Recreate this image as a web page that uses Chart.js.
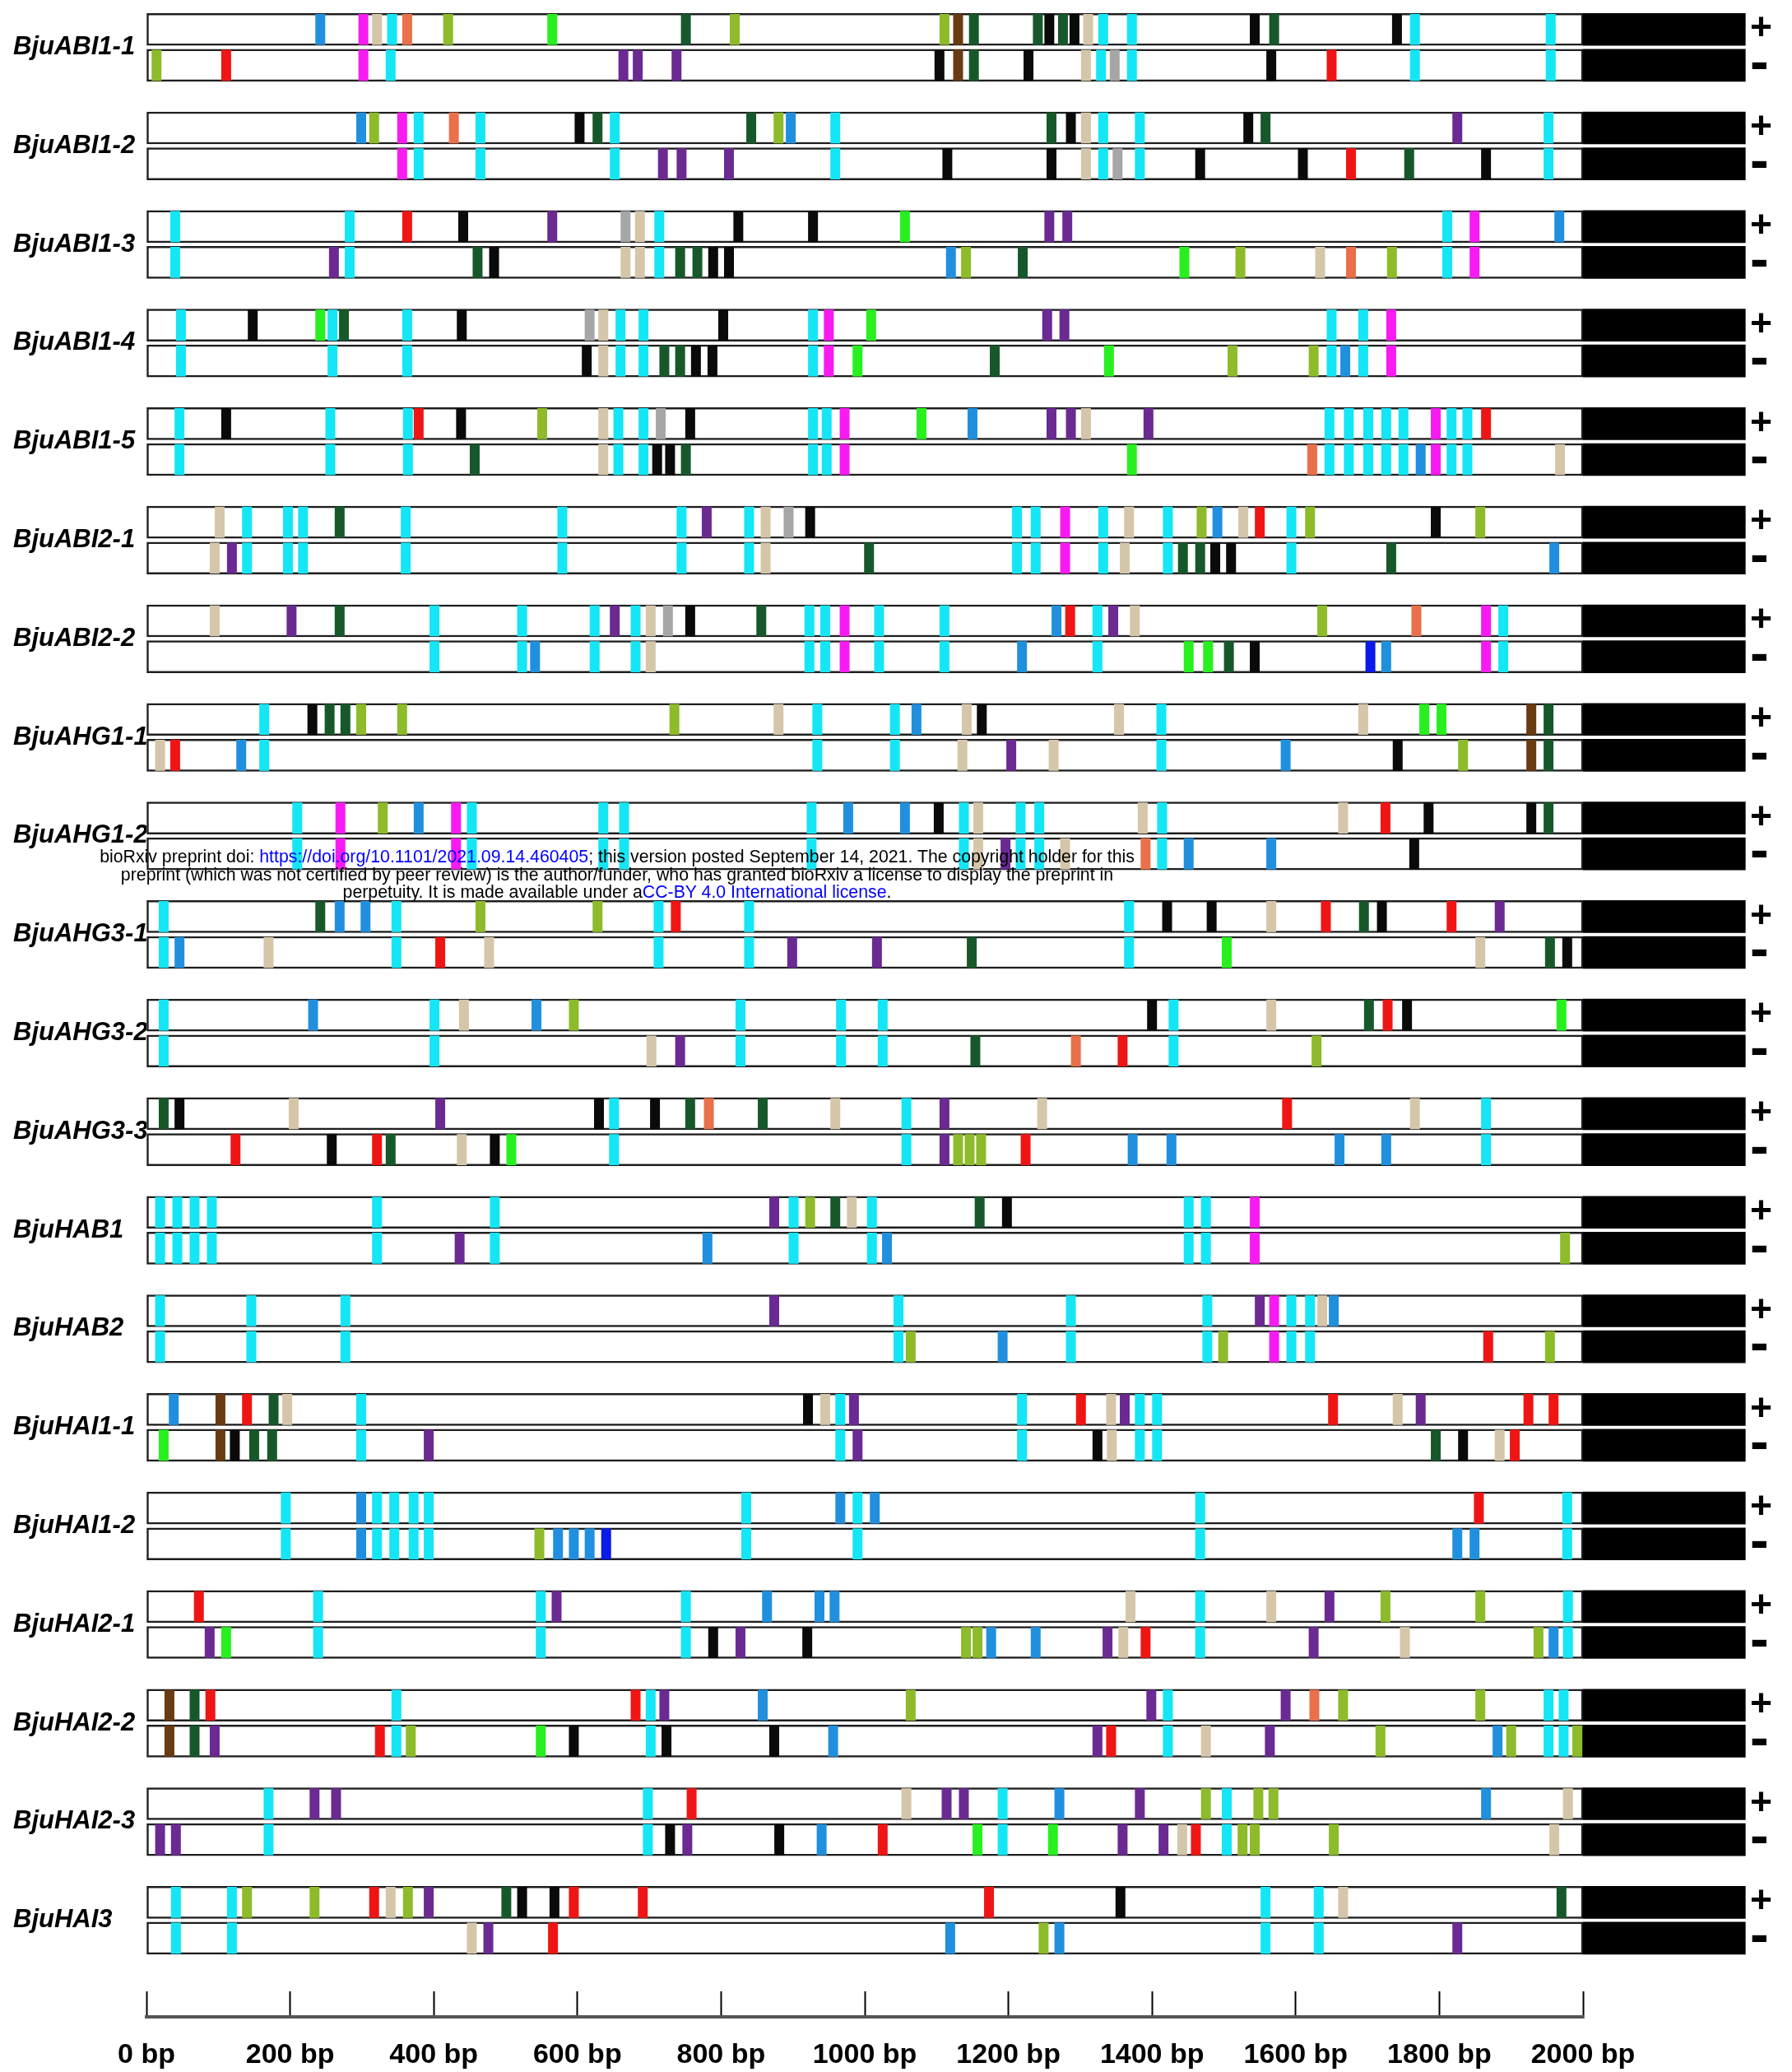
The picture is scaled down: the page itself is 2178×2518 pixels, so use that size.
<!DOCTYPE html>
<html><head><meta charset="utf-8">
<script src="https://cdn.jsdelivr.net/npm/chart.js@4/dist/chart.umd.min.js"></script>
<style>
html,body{margin:0;padding:0;background:#fff;}
#wrap{position:relative;width:2178px;height:2518px;}
#note{position:absolute;left:0;width:1500px;top:1031px;text-align:center;font-family:"Liberation Sans",Arial,sans-serif;font-size:21.3px;line-height:21.5px;color:#000;white-space:nowrap;}
#note span{color:#0000ff;}
</style></head><body>
<div id="wrap"><canvas id="c" width="2178" height="2518"></canvas>
<div id="note">bioRxiv preprint doi: <span>https://doi.org/10.1101/2021.09.14.460405</span>; this version posted September 14, 2021. The copyright holder for this<br>preprint (which was not certified by peer review) is the author/funder, who has granted bioRxiv a license to display the preprint in<br>perpetuity. It is made available under a<span>CC-BY 4.0 International license</span>.</div>
</div>
<script>
// ---------------- DATA ----------------
const genes = ['BjuABI1-1','BjuABI1-2','BjuABI1-3','BjuABI1-4','BjuABI1-5','BjuABI2-1','BjuABI2-2','BjuAHG1-1','BjuAHG1-2','BjuAHG3-1','BjuAHG3-2','BjuAHG3-3','BjuHAB1','BjuHAB2','BjuHAI1-1','BjuHAI1-2','BjuHAI2-1','BjuHAI2-2','BjuHAI2-3','BjuHAI3'];

// motif sites: code letter + position (bp), + strand
const sitesPlus = [
 'b242 m302 t321 c342 o363 y420 g565 d751 y819 y1111 w1130 d1152 d1241 k1257 d1276 k1292 t1311 c1332 c1372 k1543 d1570 k1741 c1766 c1955',
 'b299 y317 m356 c379 o428 c465 k603 d628 c652 d842 y880 b897 c959 d1260 k1287 t1308 c1332 c1383 k1534 d1558 p1825 c1952',
 'c40 c283 r363 k441 p565 a667 t687 c714 k824 k928 g1056 p1257 p1282 c1811 m1849 b1967',
 'c48 k148 g242 c259 d275 c363 k439 a617 t636 c660 c692 k803 c928 m950 g1009 p1254 p1278 c1650 c1694 m1733',
 'c46 k111 c256 c364 r379 k438 y551 t636 c657 c692 a716 k757 c928 c947 m972 g1079 b1150 p1260 p1287 t1308 p1395 c1647 c1674 c1701 c1726 c1750 m1795 c1817 c1839 r1865',
 't102 c140 c197 c218 d269 c361 c579 c745 p780 c839 t862 a894 k924 c1212 c1238 m1279 c1332 t1368 c1422 y1469 b1491 t1527 r1550 c1594 y1620 k1795 y1857',
 't95 p202 d269 c401 c523 c624 p652 c681 t702 a726 k757 d856 c923 c945 m972 c1020 c1111 b1267 r1286 c1324 p1346 t1376 y1637 o1768 m1865 c1889',
 'c164 k231 d255 d277 y299 y356 y735 t880 c934 c1042 b1072 t1142 k1163 t1354 c1413 t1694 g1779 g1803 w1928 d1952',
 'c210 m270 y329 b379 m431 c453 c636 c665 c926 b977 b1056 k1103 c1138 t1158 c1217 c1243 t1387 c1414 t1666 r1725 k1785 k1928 d1952',
 'c24 d242 b269 b305 c348 y465 y628 c713 r737 c839 c1368 k1421 k1483 t1566 r1642 d1695 k1720 r1817 p1884',
 'c24 b232 c401 t442 b543 y595 c827 c967 c1025 k1400 c1430 t1566 d1702 r1728 k1755 g1970',
 'd24 k46 t205 p409 k630 c651 k708 d757 o783 d858 t959 c1058 p1111 t1247 r1588 t1766 c1865',
 'c19 c43 c67 c91 c321 c485 p874 c901 y924 d959 t982 c1010 d1160 k1198 c1451 c1475 m1543',
 'c19 c146 c277 p874 c1047 c1287 c1477 p1550 m1570 c1594 c1620 t1637 b1653',
 'b38 w103 r140 d177 t196 c299 k921 t945 c966 p985 c1219 r1301 t1343 p1362 c1383 c1407 r1652 t1742 p1774 r1924 r1959',
 'c194 b299 c321 c345 c372 c393 c835 b966 c990 b1014 c1467 r1855 c1978',
 'r73 c239 c549 p571 c751 b864 b937 b958 t1370 c1467 t1566 p1647 y1725 y1857 c1979',
 'w32 d67 r89 c348 r681 c702 p721 b858 y1064 p1399 c1422 p1586 o1626 y1666 y1857 c1952 c1973',
 'c170 p234 p264 c698 r759 t1058 p1114 p1138 c1192 b1271 p1383 y1475 c1504 y1548 y1569 b1865 t1979',
 'c41 c119 y140 y234 r317 t340 y364 p393 d501 k523 k568 r595 r691 r1173 k1356 c1558 c1632 t1666 d1970'
];

// motif sites: code letter + position (bp), - strand
const sitesMinus = [
 'y14 r111 m302 c340 p664 p684 p738 k1104 w1130 d1152 k1228 t1308 c1329 a1348 c1372 k1566 r1650 c1766 c1955',
 'm356 c379 c465 c652 p719 p745 p811 c959 k1115 k1260 t1308 c1332 a1352 c1383 k1467 k1610 r1677 d1758 k1865 c1952',
 'c40 p261 c283 d461 k484 t667 t687 c714 d743 d767 k789 k811 b1120 y1141 d1220 g1445 y1523 t1634 o1677 y1734 c1811 m1849',
 'c48 c259 c363 k613 t636 c660 c692 d721 d743 k765 k788 c928 m950 g990 d1181 g1340 y1512 y1625 c1650 b1669 c1694 m1733',
 'c46 c256 c364 d457 t636 c657 c692 k711 k729 d751 c928 c947 m972 g1372 o1623 c1647 c1674 c1701 c1726 c1750 b1774 m1795 c1817 c1839 t1968',
 't95 p119 c140 c197 c218 c361 c579 c745 c839 t862 d1006 c1212 c1238 m1279 c1332 t1362 c1422 d1443 d1467 k1488 k1510 c1594 d1733 b1960',
 'c401 c523 b541 c624 c681 t702 c923 c945 m972 c1020 c1111 b1219 c1324 g1451 g1478 d1507 k1543 n1704 b1726 m1865 c1889',
 't19 r40 b132 c164 c934 c1042 t1136 p1204 t1263 c1413 b1586 k1742 y1833 w1928 d1952',
 'c210 m270 m431 c453 c636 c665 c926 c1138 t1158 p1196 c1217 c1243 t1279 o1391 c1414 b1451 b1566 k1765',
 'c24 b46 t170 c348 r409 t477 c713 c839 p899 p1017 d1149 c1368 g1504 t1857 d1954 k1978',
 'c24 c401 t703 p743 c827 c967 c1025 d1154 o1294 r1359 c1430 y1629',
 'r124 k258 r321 d340 t439 k485 g508 c651 c1058 p1111 y1130 y1146 y1162 r1224 b1373 b1427 b1661 b1726 c1865',
 'c19 c43 c67 c91 c321 p436 c485 b781 c901 c1010 b1031 c1451 c1475 m1543 y1975',
 'c19 c146 c277 c1047 y1064 b1192 c1287 c1477 y1499 m1570 c1594 c1620 r1868 y1954',
 'g24 w103 k123 d150 d175 c299 p393 c966 p990 c1219 k1324 t1344 c1383 c1407 d1795 k1833 t1884 r1905',
 'c194 b299 c321 c345 c372 c393 y547 b573 b595 b617 n640 c835 c990 c1467 b1825 b1849 c1978',
 'p88 g111 c239 c549 c751 k789 p827 k920 y1141 y1157 b1176 b1238 p1338 t1360 r1391 c1467 p1625 t1752 y1938 b1959 c1979',
 'w32 d67 p95 r325 c348 y368 g549 k595 c702 k724 k874 b956 p1324 r1343 c1422 t1475 p1564 y1718 b1881 y1900 c1952 c1973 y1992',
 'p19 p41 c170 c698 k729 p753 k881 b940 r1025 g1157 c1192 g1262 p1359 p1416 t1442 r1461 c1504 y1526 y1543 y1653 t1960',
 'c41 c119 t453 p476 r566 b1119 y1249 b1271 c1558 c1632 p1825'
];

const motifCodes = ['c','m','r','k','d','y','g','p','t','a','o','b','n','w'];
const xTickValues = [0,200,400,600,800,1000,1200,1400,1600,1800,2000];
const seqStart = 0, seqEnd = 2000, capEnd = 2226;

// ---------------- STYLE ----------------
const motifColors = {c:'#14E6F5', m:'#F71BF2', r:'#F01515', k:'#0a0a0a', d:'#17582A', y:'#8DBB2A', g:'#28F020',
  p:'#6A2A92', t:'#D5C6AA', a:'#A6A6A6', o:'#E9704A', b:'#2090DE', n:'#0A1AE8', w:'#6A3B12'};
const STRAND_OFFSET = 0.182;   // gene units from gene centre
const SITE_HALF = 6.5;         // half width of a site mark (bp)
const FONT = '"Liberation Sans", Arial, sans-serif';

function parseSites(str){
  return str.trim().split(/\s+/).map(t => ({code: t[0], bp: +t.slice(1)}));
}
const byMotif = {};
motifCodes.forEach(c => byMotif[c] = []);
genes.forEach((g, i) => {
  [[sitesPlus[i], i - STRAND_OFFSET], [sitesMinus[i], i + STRAND_OFFSET]].forEach(([s, y]) => {
    parseSites(s).forEach(({code, bp}) => byMotif[code].push({x: [bp - SITE_HALF, bp + SITE_HALF], y}));
  });
});
const trackRows = genes.flatMap((g, i) => [i - STRAND_OFFSET, i + STRAND_OFFSET]);

const datasets = motifCodes.map(c => ({
  label: c, data: byMotif[c], backgroundColor: motifColors[c], borderWidth: 0,
  borderSkipped: false, barThickness: 37, grouped: false, order: 1
})).concat([
  {label: 'track', data: trackRows.map(y => ({x: [seqStart, seqEnd], y})), backgroundColor: '#ffffff',
   borderColor: '#1e1e1e', borderWidth: 2.5, borderSkipped: false, barThickness: 39, grouped: false, order: 3},
  {label: 'cap', data: trackRows.map(y => ({x: [seqEnd, capEnd], y})), backgroundColor: '#000000',
   borderWidth: 0, borderSkipped: false, barThickness: 39, grouped: false, order: 3, clip: false}
]);

new Chart(document.getElementById('c'), {
  type: 'bar',
  data: {datasets},
  options: {
    indexAxis: 'y', responsive: false, animation: false, events: [], devicePixelRatio: 1,
    layout: {padding: {top: 9.6, left: 16, right: 0, bottom: 0}},
    plugins: {legend: {display: false}, tooltip: {enabled: false}},
    scales: {
      x: {
        type: 'linear', position: 'bottom', min: seqStart, max: seqEnd, offset: false,
        afterBuildTicks: s => { s.ticks = xTickValues.map(v => ({value: v})); },
        afterFit: s => { s.height = 67; s.paddingLeft = 0; s.paddingRight = 0; },
        ticks: {callback: v => v + ' bp', autoSkip: false, maxRotation: 0, padding: 57, color: '#000',
          font: {family: FONT, size: 34, weight: 'bold'}},
        grid: {drawOnChartArea: false, drawTicks: true, tickLength: -31, tickColor: '#000', tickWidth: 2},
        border: {display: true, color: '#555', width: 4}
      },
      y: {
        type: 'linear', position: 'left', reverse: true, min: -0.4, max: 19.98, offset: false,
        afterBuildTicks: s => { s.ticks = genes.map((g, i) => ({value: i})); },
        afterFit: s => { s.width = 162; s.paddingTop = 0; s.paddingBottom = 0; },
        ticks: {autoSkip: false, padding: 0, crossAlign: 'far', color: '#000', callback: v => genes[v],
          font: {family: FONT, size: 31, weight: 'bold', style: 'italic'}},
        grid: {display: false, drawTicks: false, offset: false}, border: {display: false}
      },
      y2: {
        type: 'linear', position: 'right', reverse: true, min: -0.4, max: 19.98, offset: false,
        afterBuildTicks: s => { s.ticks = trackRows.map(v => ({value: v})); },
        afterFit: s => { s.width = 254; s.paddingTop = 0; s.paddingBottom = 0; },
        ticks: {autoSkip: false, padding: 203, color: '#000', callback: (v, idx) => idx % 2 ? '-' : '+',
          font: ctx => ({family: FONT, size: ctx.index % 2 ? 68 : 46, weight: 'bold'})},
        grid: {display: false, drawTicks: false, offset: false}, border: {display: false}
      }
    }
  }
});
</script>
</body></html>
